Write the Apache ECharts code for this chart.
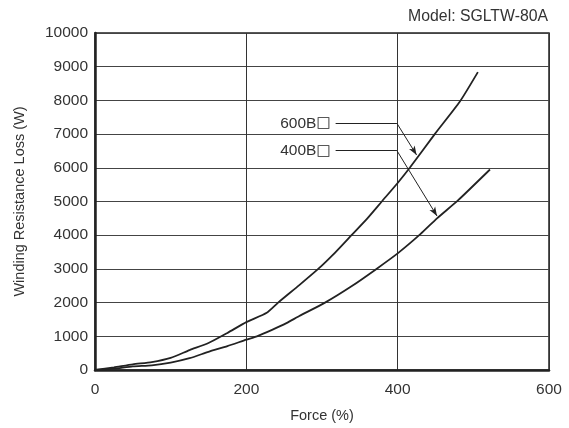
<!DOCTYPE html>
<html>
<head>
<meta charset="utf-8">
<script src="https://cdn.jsdelivr.net/npm/echarts@6/dist/echarts.min.js"></script>
<style>
html,body{margin:0;padding:0;background:#fff;}
#chart{width:569px;height:428px;}
</style>
</head>
<body>
<div id="chart"></div>
<script>
// Data
var force600 = [0, 25, 50, 75, 100, 125, 150, 175, 200, 227, 242, 270, 295, 318, 339, 360, 379, 400, 416, 449, 482, 506];
var loss600  = [0, 80, 170, 235, 360, 590, 800, 1100, 1420, 1700, 2000, 2520, 3000, 3500, 4000, 4500, 5000, 5550, 6000, 7000, 7960, 8840];
var force400 = [0, 25, 50, 75, 100, 125, 150, 175, 200, 214, 234, 253, 270, 304, 340, 372, 400, 430, 452, 480, 522];
var loss400  = [0, 40, 110, 140, 220, 350, 540, 710, 900, 1000, 1190, 1390, 1600, 2000, 2500, 3000, 3460, 4030, 4500, 5040, 5950];
var seriesNames = ['600B\u25A1', '400B\u25A1'];
var seriesLabels = ['600B{b|\u25A1}', '400B{b|\u25A1}'];
// Annotation leader lines (data units): [start, elbow, arrow tip]
var leader600 = [[318, 7320], [399, 7320], [425, 6380]];
var leader400 = [[318, 6510], [399, 6510], [452, 4570]];
var xTicks = {min: 0, max: 600, interval: 200};
var yTicks = {min: 0, max: 10000, interval: 1000};

function zip(a, b) { return a.map(function (v, i) { return [v, b[i]]; }); }

var font = 'Liberation Sans, Arial, sans-serif';
var txt = '#333';

function leaderLines(pts, label) {
  return {
    silent: true,
    animation: false,
    lineStyle: {color: '#222', width: 1, type: 'solid'},
    data: [
      [{coord: pts[0], symbol: 'none',
        label: {show: true, position: 'start', formatter: label, color: txt, fontSize: 15.5,
                fontFamily: font, distance: 5,
                rich: {b: {fontFamily: 'DejaVu Sans', fontWeight: 'bold', fontSize: 15, color: '#222'}}}},
       {coord: pts[1], symbol: 'none'}],
      [{coord: pts[1], symbol: 'none', label: {show: false}},
       {coord: pts[2], symbol: 'arrow', symbolSize: [5, 9]}]
    ]
  };
}

var chart = echarts.init(document.getElementById('chart'), null, {renderer: 'canvas'});
chart.setOption({
  animation: false,
  backgroundColor: '#fff',
  title: {
    text: 'Model: SGLTW-80A', right: 16, top: 4,
    textStyle: {fontFamily: font, fontSize: 15.8, fontWeight: 'normal', color: txt}
  },
  grid: {left: 95, right: 20, top: 33, bottom: 58, show: true, borderColor: '#222', borderWidth: 1.5},
  xAxis: {
    type: 'value', min: xTicks.min, max: xTicks.max, interval: xTicks.interval,
    name: 'Force (%)', nameLocation: 'middle', nameGap: 38,
    nameTextStyle: {fontFamily: font, fontSize: 14.5, color: txt},
    axisLine: {show: true, lineStyle: {color: '#222', width: 2.5}},
    axisTick: {show: false},
    axisLabel: {fontFamily: font, fontSize: 15.5, color: txt, margin: 12},
    splitLine: {show: true, lineStyle: {color: '#333', width: 1}}
  },
  yAxis: {
    type: 'value', min: yTicks.min, max: yTicks.max, interval: yTicks.interval,
    name: 'Winding Resistance Loss (W)', nameLocation: 'middle', nameGap: 68,
    nameTextStyle: {fontFamily: font, fontSize: 14.5, color: txt},
    axisLine: {show: true, lineStyle: {color: '#222', width: 2.5}},
    axisTick: {show: false},
    axisLabel: {fontFamily: font, fontSize: 15.5, color: txt, margin: 7,
                formatter: function (v) { return String(v); }},
    splitLine: {show: true, lineStyle: {color: '#444', width: 1}}
  },
  series: [
    {
      name: seriesNames[0], type: 'line', data: zip(force600, loss600),
      showSymbol: false, symbol: 'none', smooth: 0.2,
      lineStyle: {color: '#222', width: 1.8},
      markLine: leaderLines(leader600, seriesLabels[0])
    },
    {
      name: seriesNames[1], type: 'line', data: zip(force400, loss400),
      showSymbol: false, symbol: 'none', smooth: 0.2,
      lineStyle: {color: '#222', width: 1.8},
      markLine: leaderLines(leader400, seriesLabels[1])
    }
  ]
});
</script>
</body>
</html>
